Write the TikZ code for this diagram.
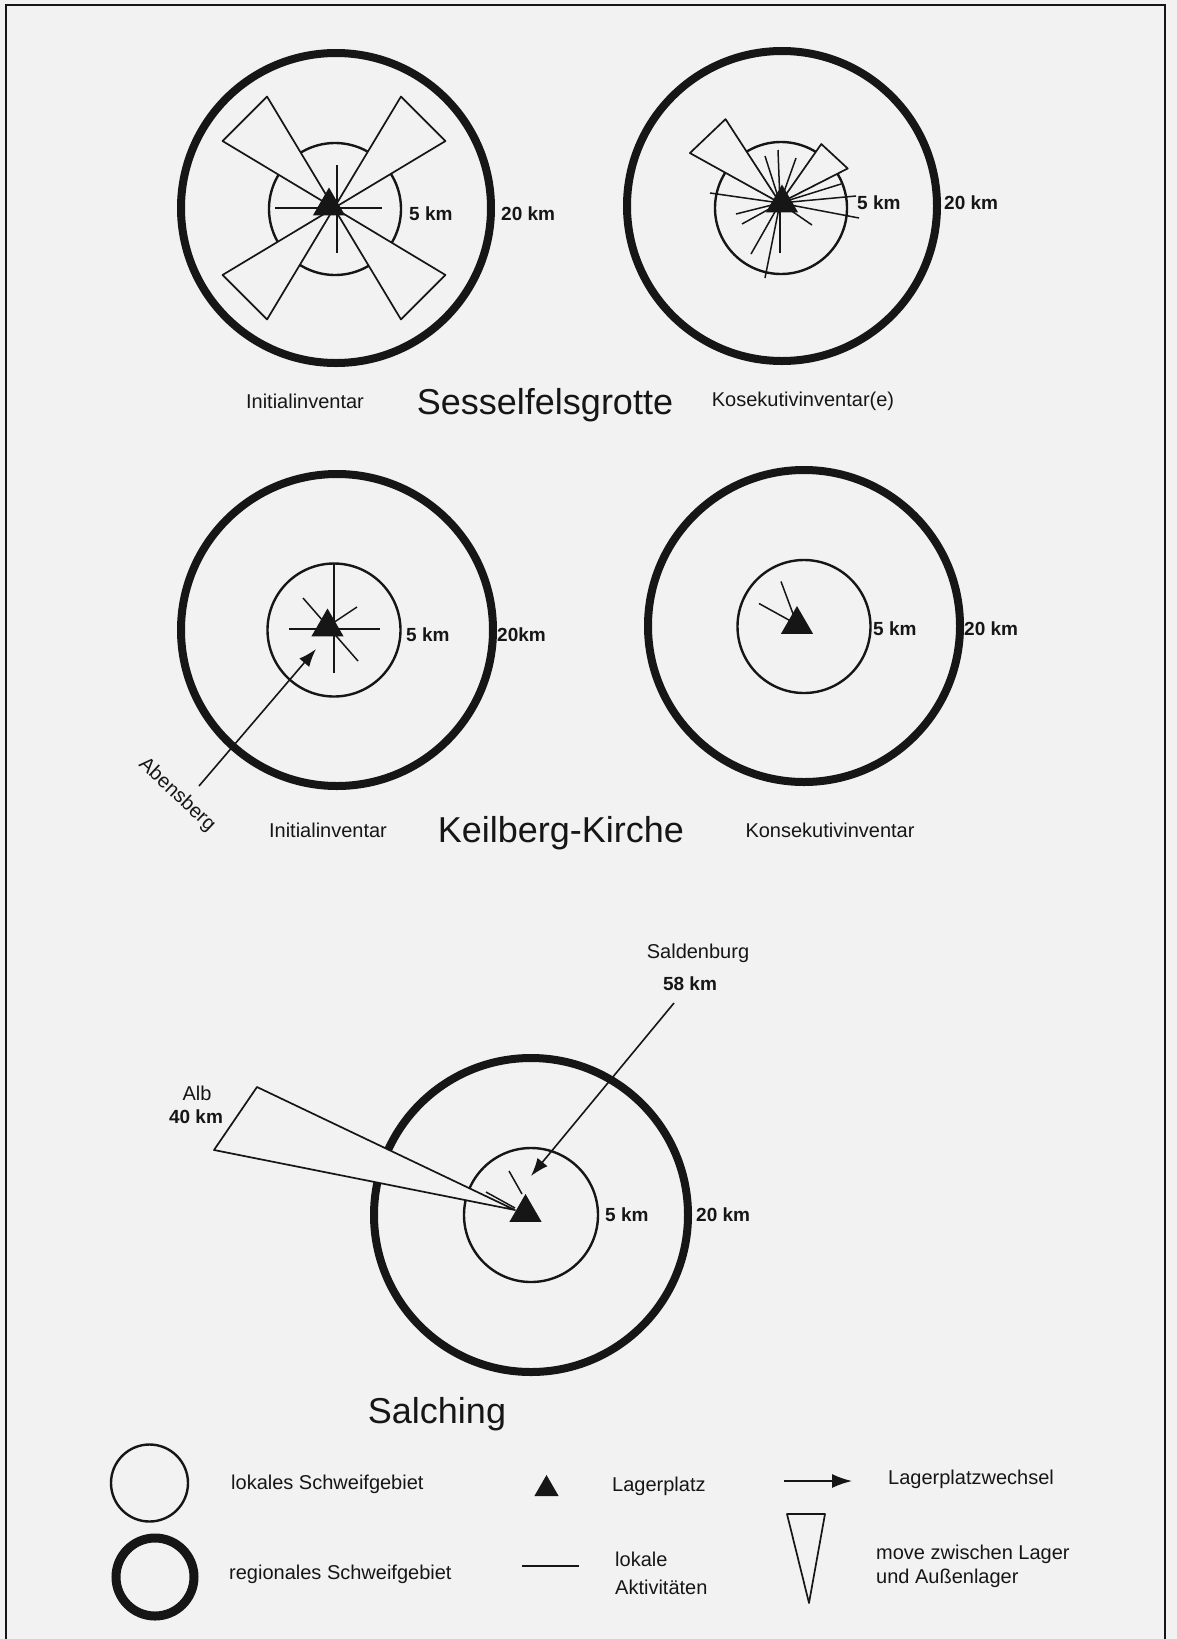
\documentclass[tikz,border=0pt]{standalone}
\usepackage{fontspec}
\setmainfont{Liberation Sans}
\usetikzlibrary{positioning, shapes.geometric, arrows.meta}
\definecolor{paper}{HTML}{F2F2F2}
\definecolor{ink}{HTML}{161616}
\tikzset{
  regional/.style={circle, draw=ink, line width=8pt, inner sep=0pt, outer sep=0pt},
  lokal/.style={circle, draw=ink, line width=2.4pt, inner sep=0pt, outer sep=0pt},
  lager/.style={regular polygon, regular polygon sides=3, fill=ink, inner sep=0pt, outer sep=0pt, minimum size=37pt},
  akt/.style={draw=ink, line width=1.5pt},
  movekeil/.style={draw=ink, fill=paper, line width=1.7pt, line join=round},
  wechsel/.style={draw=ink, line width=1.6pt, -{Latex[length=18pt, width=13pt]}},
  km/.style={font=\fontsize{19}{22}\selectfont\bfseries, text=ink, inner sep=0pt, anchor=west},
  lbl/.style={font=\fontsize{20}{24}\selectfont, text=ink, inner sep=0pt},
  titel/.style={font=\fontsize{36}{40}\selectfont, text=ink, inner sep=0pt},
}

\begin{document}
\begin{tikzpicture}[x=1pt, y=1pt]
  \fill[paper] (0,0) rectangle (1177,-1639);
  \useasboundingbox (0,0) rectangle (1177,-1639);
  \draw[ink, line width=1.5pt] (6,-1639) -- (6,-5) -- (1165,-5) -- (1165,-1639);

  % Sesselfelsgrotte, Initialinventar
  \node[regional, minimum size=310pt] (outA) at (336,-208) {};
  \node[lokal, minimum size=132pt] (inA) at (335,-209) {};
  \coordinate (cA) at (334,-208);
  \foreach \a in {45,135,225,315}
    \draw[movekeil] (cA) -- +(\a-14:130) -- +(\a+14:130) -- cycle;
  \draw[akt] (outA.center) +(-61,0) -- +(46,0);
  \draw[akt] (outA.center) +(1,43) -- +(1,-45);
  \node[lager] (lagerA) at (329,-206) {};
  \node[km] (kmA1) at (409,-214) {5 km};
  \node[km] (kmA2) at (501,-214) {20 km};

  % Sesselfelsgrotte, Kosekutivinventar
  \node[regional, minimum size=310pt] (outB) at (782,-206) {};
  \node[lokal, minimum size=132pt] (inB) at (781,-208) {};
  \coordinate (cB) at (780,-203);
  \draw[movekeil] (cB) -- +(123:100) -- +(151:103) -- cycle;
  \draw[movekeil] (cB) -- +(27:76) -- +(55:72) -- cycle;
  \foreach \dx/\dy in {-70/10, -44/-11, -38/-21, -29/-51, -15/-75, 0/-50, 32/-22,
                       79/-15, 76/7, 61/19, -15/47, -2/53, 16/45}
    \draw[akt] (cB) -- +(\dx,\dy);
  \node[lager] (lagerB) at (782,-203) {};
  \node[km] (kmB1) at (857,-203) {5 km};
  \node[km] (kmB2) at (944,-203) {20 km};

  \node[lbl] (initA) at (305,-401) {Initialinventar};
  \node[titel] (sessel) at (545,-405) {Sesselfelsgrotte};
  \node[lbl] (konsA) at (803,-401) {Kosekutivinventar(e)};

  % Keilberg-Kirche, Initialinventar
  \node[regional, minimum size=312pt] (outC) at (337,-630) {};
  \node[lokal, minimum size=133pt] (inC) at (334,-630) {};
  \draw[akt] (inC.center) +(0,66) -- +(0,-43);
  \draw[akt] (inC.center) +(-45,1) -- +(46,1);
  \draw[akt] (inC.center) +(-31,32) -- +(24,-31);
  \draw[akt] (inC.center) +(-7,3) -- +(23,23);
  \node[lager] (lagerC) at (327.5,-627) {};
  \coordinate (abs) at (199,-786);
  \coordinate (absEnd) at (316,-649);
  \draw[wechsel] (abs) -- (absEnd);
  \node[lbl, rotate=-43] (abensberg) at (177,-795) {Abensberg};
  \node[km] (kmC1) at (406,-635) {5 km};
  \node[km] (kmC2) at (497,-635) {20km};

  % Keilberg-Kirche, Konsekutivinventar
  \node[regional, minimum size=312pt] (outD) at (804,-626) {};
  \node[lokal, minimum size=133pt] (inD) at (804,-626.5) {};
  \coordinate (cD) at (797,-624.5);
  \draw[akt] (cD) -- +(-38,21);
  \draw[akt] (cD) -- +(-16,43);
  \node[lager] (lagerD) at (cD) {};
  \node[km] (kmD1) at (873,-629) {5 km};
  \node[km] (kmD2) at (964,-629) {20 km};

  \node[lbl] (initC) at (328,-830) {Initialinventar};
  \node[titel] (keilberg) at (561,-833) {Keilberg-Kirche};
  \node[lbl] (konsD) at (830,-830) {Konsekutivinventar};

  % Salching
  \node[regional, minimum size=314pt] (outE) at (531,-1215) {};
  \node[lokal, minimum size=134pt] (inE) at (531,-1215) {};
  \coordinate (cE) at (515,-1210);
  \draw[movekeil] (cE) -- (257,-1087) -- (214,-1150) -- cycle;
  \draw[akt] (509,-1171) -- (522,-1194);
  \draw[akt] (486,-1192) -- (515,-1208);
  \node[lager] (lagerE) at (525.5,-1212.5) {};
  \coordinate (sald) at (674,-1003);
  \coordinate (saldEnd) at (531,-1176);
  \draw[wechsel] (sald) -- (saldEnd);
  \node[lbl] (saldenburg) at (698,-953) {Saldenburg};
  \node[km, anchor=center] (km58) at (690,-984) {58 km};
  \node[lbl] (alb) at (197,-1093) {Alb};
  \node[km, anchor=center] (km40) at (196,-1117) {40 km};
  \node[km] (kmE1) at (605,-1215) {5 km};
  \node[km] (kmE2) at (696,-1215) {20 km};
  \node[titel] (salching) at (437,-1414) {Salching};

  % Legende
  \node[lokal, minimum size=77pt] (legLokal) at (149.5,-1483) {};
  \node[regional, line width=9pt, minimum size=78pt] (legRegional) at (155,-1577) {};
  \node[lbl, anchor=west] (txtLokal) at (231,-1484) {lokales Schweifgebiet};
  \node[lbl, anchor=west] (txtRegional) at (229,-1574) {regionales Schweifgebiet};
  \node[lager, minimum size=28pt] (legLager) at (546.5,-1489) {};
  \node[lbl, anchor=west] (txtLager) at (612,-1486) {Lagerplatz};
  \draw[akt] (522,-1566) -- +(57,0);
  \node[lbl, anchor=west, align=left, font=\fontsize{20}{28}\selectfont] (txtAkt) at (615,-1573) {lokale\\Aktivitäten};
  \coordinate (legW0) at (784,-1481);
  \coordinate (legW1) at (852,-1481);
  \draw[wechsel, -{Latex[length=20pt, width=14pt]}] (legW0) -- (legW1);
  \node[lbl, anchor=west] (txtWechsel) at (888,-1479) {Lagerplatzwechsel};
  \draw[movekeil] (787,-1514) -- (825,-1514) -- (809,-1603) -- cycle;
  \node[lbl, anchor=west, align=left] (txtMove) at (876,-1566) {move zwischen Lager\\und Außenlager};
\end{tikzpicture}
\end{document}
